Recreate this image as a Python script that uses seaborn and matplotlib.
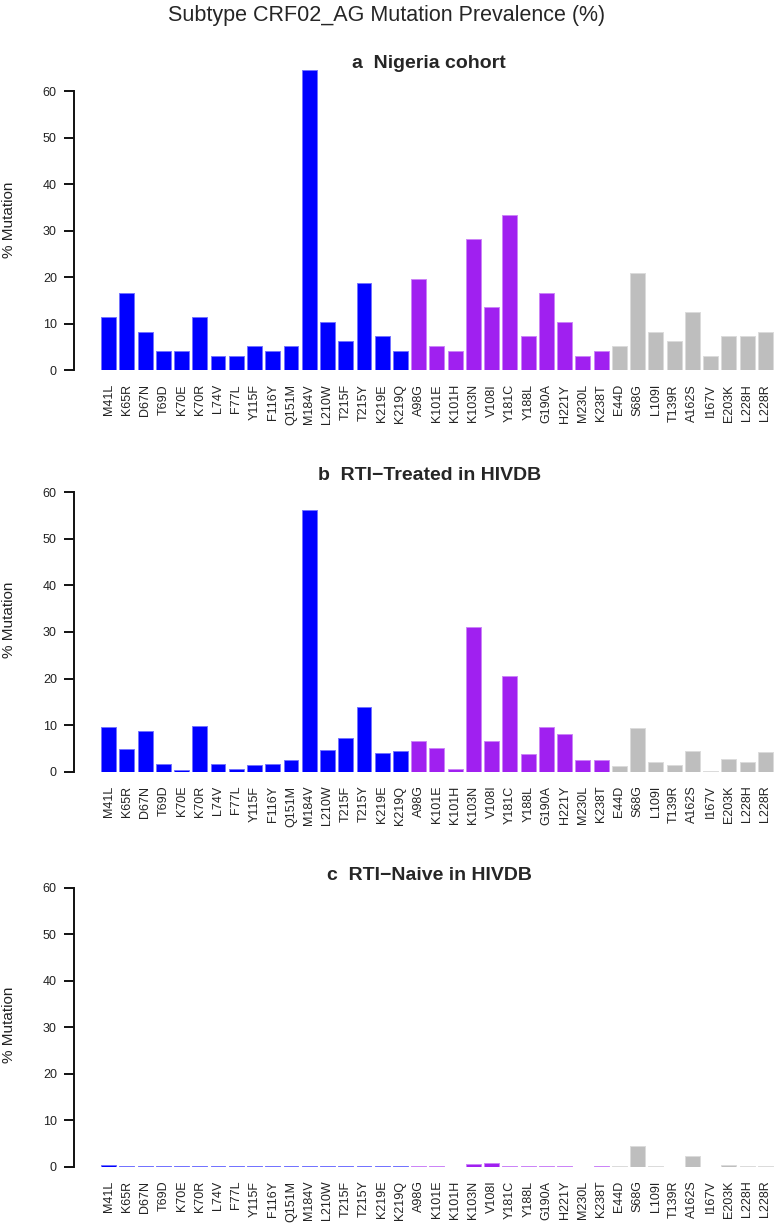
import matplotlib
matplotlib.use("Agg")
import matplotlib.pyplot as plt
import seaborn as sns
import pandas as pd
from matplotlib.colors import to_rgb

# mutation names, grouped: NRTI (blue), NNRTI (purple), other (grey)
nrti = ['M41L', 'K65R', 'D67N', 'T69D', 'K70E', 'K70R', 'L74V', 'F77L', 'Y115F',
        'F116Y', 'Q151M', 'M184V', 'L210W', 'T215F', 'T215Y', 'K219E', 'K219Q']
nnrti = ['A98G', 'K101E', 'K101H', 'K103N', 'V108I', 'Y181C', 'Y188L', 'G190A',
         'H221Y', 'M230L', 'K238T']
other = ['E44D', 'S68G', 'L109I', 'T139R', 'A162S', 'I167V', 'E203K', 'L228H', 'L228R']
mutations = nrti + nnrti + other
groups = ['NRTI'] * len(nrti) + ['NNRTI'] * len(nnrti) + ['Other'] * len(other)

nigeria = [11.46, 16.67, 8.33, 4.17, 4.17, 11.46, 3.13, 3.13, 5.21, 4.17, 5.21,
           64.58, 10.42, 6.25, 18.75, 7.29, 4.17,
           19.6, 5.21, 4.17, 28.13, 13.54, 33.33, 7.29, 16.67, 10.42, 3.13, 4.17,
           5.21, 20.83, 8.33, 6.25, 12.5, 3.13, 7.29, 7.29, 8.33]
treated = [9.5, 4.8, 8.7, 1.7, 0.35, 9.9, 1.7, 0.65, 1.45, 1.7, 2.6,
           56.1, 4.6, 7.15, 14.0, 4.0, 4.35,
           6.5, 5.1, 0.5, 31.0, 6.5, 20.5, 3.7, 9.6, 8.2, 2.6, 2.5,
           1.3, 9.45, 2.0, 1.5, 4.37, 0.05, 2.8, 2.1, 4.15]
naive = [0.3, 0.05, 0.1, 0.05, 0.05, 0.05, 0.05, 0.05, 0.05, 0.05, 0.05,
         0.15, 0.1, 0.05, 0.05, 0.05, 0.1,
         0.1, 0.1, 0.03, 0.5, 0.7, 0.15, 0.05, 0.1, 0.1, 0.03, 0.1,
         0.05, 4.4, 0.1, 0.02, 2.4, 0.02, 0.3, 0.15, 0.05]

panels = [('a  Nigeria cohort', nigeria), ('b  RTI\u2212Treated in HIVDB', treated),
          ('c  RTI\u2212Naive in HIVDB', naive)]
group_colors = {'NRTI': '#0000FF', 'NNRTI': '#A020F0', 'Other': '#BEBEBE'}

sns.set_theme(style="white")
plt.rcParams['font.family'] = ['Liberation Sans', 'DejaVu Sans']

W, H = 774, 1225
fig = plt.figure(figsize=(W / 100, H / 100), dpi=100)

# pixel layout of each panel: (zero line y, px per unit, y-limit top, title y, ylabel y)
layout = [(370.3, 4.655, 65, 63, 220),
          (771.7, 4.657, 60, 475, 620),
          (1166.7, 4.65, 60, 876, 1025)]

x_left, x_right = 73.5, 774
for (title, vals), (zero_px, ppu, ytop, title_y, ylab_y) in zip(panels, layout):
    height_px = ytop * ppu
    ax = fig.add_axes([x_left / W, 1 - zero_px / H, (x_right - x_left) / W, height_px / H])
    df = pd.DataFrame({'mutation': mutations, 'pct': vals, 'group': groups})
    sns.barplot(data=df, x='mutation', y='pct', hue='group', palette=group_colors,
                saturation=1, dodge=False, width=0.82, legend=False, ax=ax, linewidth=0)
    for patch in ax.patches:
        c = to_rgb(patch.get_facecolor())
        patch.set_edgecolor(tuple(0.55 * v + 0.45 for v in c))
        patch.set_linewidth(0.7)
    ax.set_xlim(-1.92, 36.47)
    ax.set_ylim(0, ytop)
    for s in ['top', 'right', 'bottom']:
        ax.spines[s].set_visible(False)
    ax.spines['left'].set_bounds(0, 60)
    ax.spines['left'].set_linewidth(1.4)
    ax.spines['left'].set_color('#111111')
    ax.set_yticks(range(0, 61, 10))
    ax.tick_params(axis='y', left=True, length=7, width=1.4, color='#111111',
                   labelsize=9, pad=5, labelcolor='#222222')
    ax.tick_params(axis='x', bottom=False, length=0, labelsize=9, pad=10, rotation=90,
                   labelcolor='#222222')
    ax.set_xlabel('')
    ax.set_ylabel('')
    fig.text((x_left + x_right) / 2 / W + 0.007, 1 - title_y / H, title,
             ha='center', va='center', fontsize=14, fontweight='bold')
    fig.text(9 / W, 1 - ylab_y / H, '% Mutation', rotation=90,
             ha='center', va='center', fontsize=11, color='#222222')

fig.text(0.5, 1 - 16 / H, 'Subtype CRF02_AG Mutation Prevalence (%)',
         ha='center', va='center', fontsize=15.5)

fig.savefig('out.png', dpi=100)
